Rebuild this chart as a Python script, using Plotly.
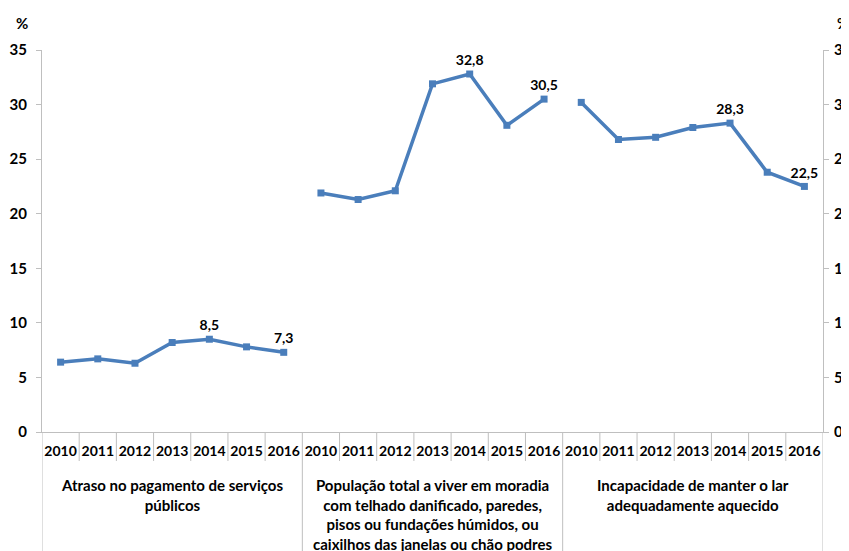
"""Material deprivation indicators, Portugal 2010-2016."""
import plotly.graph_objects as go

# --- Data ---
YEARS = ["2010", "2011", "2012", "2013", "2014", "2015", "2016"]
GROUP_LABELS = [
    "Atraso no pagamento de serviços<br>públicos",
    "População total a viver em moradia<br>com telhado danificado, paredes,<br>"
    "pisos ou fundações húmidos, ou<br>caixilhos das janelas ou chão podres",
    "Incapacidade de manter o lar<br>adequadamente aquecido",
]
ATRASO = [6.4, 6.7, 6.3, 8.2, 8.5, 7.8, 7.3]
MORADIA = [21.9, 21.3, 22.1, 31.9, 32.8, 28.1, 30.5]
AQUECIDO = [30.2, 26.8, 27.0, 27.9, 28.3, 23.8, 22.5]
LABELLED_YEARS = ["2014", "2016"]

# --- Style ---
LINE_COLOR = "#4A7EBB"
AXIS_COLOR = "#BFBFBF"
FONT = "Lato"
TEXT_COLOR = "black"

# page body adds an 8px offset, margins compensate for it
W, H = 849, 551
M_L, M_R, M_T, M_B = 34, 34, 42, 127
PLOT_H = H - M_T - M_B
PLOT_W = W - M_L - M_R

fig = go.Figure()

series = [ATRASO, MORADIA, AQUECIDO]
n = len(YEARS)
for g, values in enumerate(series):
    xs = [g * n + i for i in range(n)]
    texts = [f"{v:.1f}".replace(".", ",") if y in LABELLED_YEARS else ""
             for y, v in zip(YEARS, values)]
    fig.add_trace(go.Scatter(
        x=xs, y=values, mode="lines+markers+text",
        text=texts, textposition="top center",
        textfont=dict(family=FONT, size=14, color=TEXT_COLOR, weight="bold"),
        line=dict(color=LINE_COLOR, width=3.5),
        marker=dict(symbol="square", size=7, color=LINE_COLOR),
        cliponaxis=False, showlegend=False, hoverinfo="skip",
    ))

total = n * len(series)

# empty trace so the right axis renders
fig.add_trace(go.Scatter(x=[0], y=[0], yaxis="y2", mode="markers",
                         marker=dict(opacity=0), showlegend=False, hoverinfo="skip"))


def px_to_paper(px):
    return -px / PLOT_H


# category separators below the axis
for i in range(total + 1):
    x = i - 0.5
    full = (i % n == 0)
    fig.add_shape(type="line", xref="x", yref="paper",
                  x0=x, x1=x, y0=0, y1=px_to_paper(140 if full else 29),
                  line=dict(color=AXIS_COLOR, width=1))

# group labels
for g, label in enumerate(GROUP_LABELS):
    fig.add_annotation(
        x=g * n + (n - 1) / 2, xref="x", y=px_to_paper(42), yref="paper",
        yanchor="top", text=label, showarrow=False, align="center",
        font=dict(family=FONT, size=15, color=TEXT_COLOR, weight="bold"),
    )

# % unit labels
for xp in [-28 / PLOT_W, 1 + 28 / PLOT_W]:
    fig.add_annotation(x=xp, xref="paper", y=1 + 38 / PLOT_H, yref="paper",
                       text="%", showarrow=False,
                       font=dict(family=FONT, size=15, color=TEXT_COLOR, weight="bold"))

tickfont = dict(family=FONT, size=15, color=TEXT_COLOR, weight="bold")
yaxis_common = dict(
    range=[0, 35], tickvals=[0, 5, 10, 15, 20, 25, 30, 35],
    showgrid=False, zeroline=False, showline=True, linecolor=AXIS_COLOR,
    ticks="outside", ticklen=5, tickcolor=AXIS_COLOR, tickfont=tickfont,
    automargin=False,
)

fig.update_layout(
    width=W, height=H,
    margin=dict(l=M_L, r=M_R, t=M_T, b=M_B),
    plot_bgcolor="white", paper_bgcolor="white",
    xaxis=dict(
        range=[-0.5, total - 0.5],
        tickvals=list(range(total)), ticktext=YEARS * len(series),
        showgrid=False, zeroline=False, showline=True, linecolor=AXIS_COLOR,
        ticks="", tickfont=dict(family=FONT, size=14, color=TEXT_COLOR, weight="bold"),
        ticklabelstandoff=6, automargin=False,
    ),
    yaxis=dict(ticklabelstandoff=6, **yaxis_common),
    yaxis2=dict(overlaying="y", side="right", ticklabelstandoff=2, **yaxis_common),
)

fig.write_html("out.html")
